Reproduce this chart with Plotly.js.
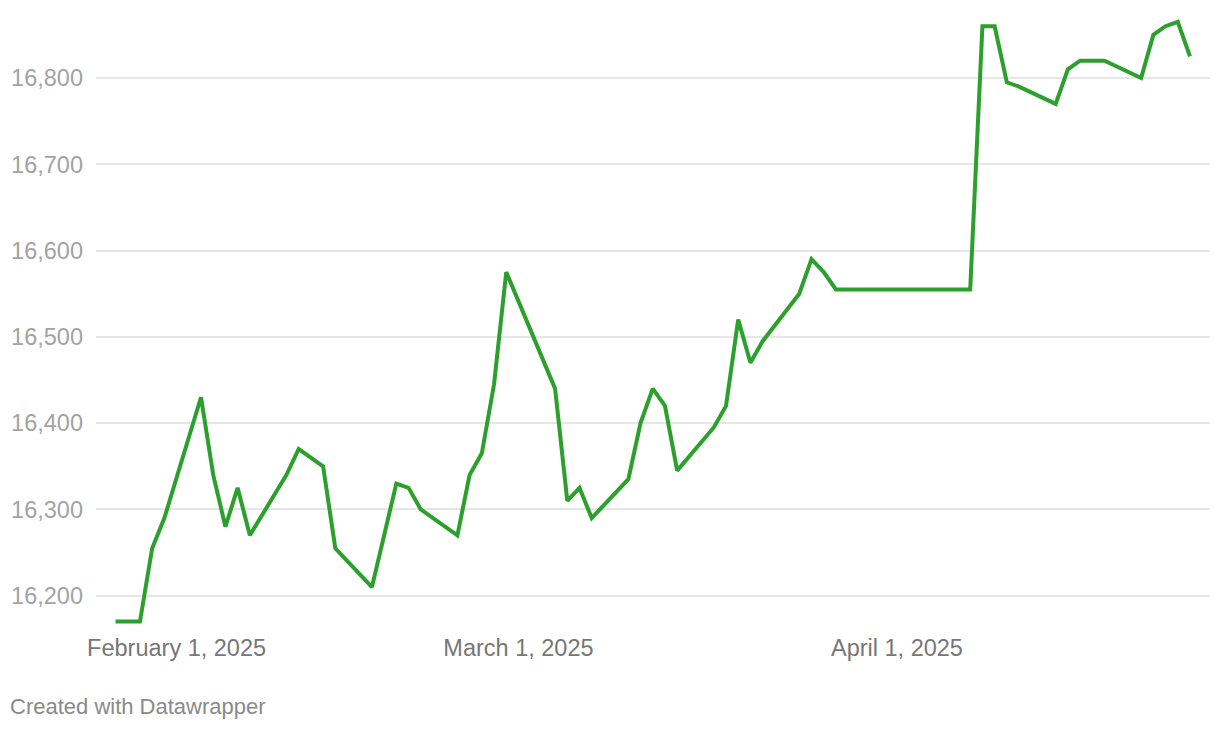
<!DOCTYPE html>
<html>
<head>
<meta charset="utf-8">
<script src="https://cdn.plot.ly/plotly-3.0.1.min.js"></script>
<style>
  html, body { margin: 0; padding: 0; background: #ffffff; }
  #chart { width: 1220px; height: 730px; }
</style>
</head>
<body>
<div id="chart"></div>
<script>
// Data
const dates = [
  '2025-01-27','2025-01-29','2025-01-30','2025-01-31',
  '2025-02-03','2025-02-04','2025-02-05','2025-02-06','2025-02-07',
  '2025-02-10','2025-02-11','2025-02-13','2025-02-14',
  '2025-02-17','2025-02-19','2025-02-20','2025-02-21',
  '2025-02-24','2025-02-25','2025-02-26','2025-02-27','2025-02-28',
  '2025-03-04','2025-03-05','2025-03-06','2025-03-07',
  '2025-03-10','2025-03-11','2025-03-12','2025-03-13','2025-03-14',
  '2025-03-17','2025-03-18','2025-03-19','2025-03-20','2025-03-21',
  '2025-03-24','2025-03-25','2025-03-26','2025-03-27',
  '2025-04-07','2025-04-08','2025-04-09','2025-04-10','2025-04-11',
  '2025-04-14','2025-04-15','2025-04-16','2025-04-17','2025-04-18',
  '2025-04-21','2025-04-22','2025-04-23','2025-04-24','2025-04-25'
];
const values = [
  16170, 16170, 16255, 16290,
  16430, 16340, 16280, 16325, 16270,
  16340, 16370, 16350, 16255,
  16210, 16330, 16325, 16300,
  16270, 16340, 16365, 16445, 16575,
  16440, 16310, 16325, 16290,
  16335, 16400, 16440, 16420, 16345,
  16395, 16420, 16520, 16470, 16495,
  16550, 16590, 16575, 16555,
  16555, 16860, 16860, 16795, 16790,
  16770, 16810, 16820, 16820, 16820,
  16800, 16850, 16860, 16865, 16825
];
const xTickVals = ['2025-02-01', '2025-03-01', '2025-04-01'];
const xTickLabels = ['February 1, 2025', 'March 1, 2025', 'April 1, 2025'];
const yTickVals = [16200, 16300, 16400, 16500, 16600, 16700, 16800];
const footerText = 'Created with Datawrapper';

const FONT = '"Liberation Sans", Arial, Helvetica, sans-serif';

const trace = {
  type: 'scatter',
  mode: 'lines',
  x: dates,
  y: values,
  line: { color: '#2ca02c', width: 4 },
  hoverinfo: 'x+y'
};

const layout = {
  width: 1220,
  height: 730,
  margin: { l: 96, r: 10, t: 10, b: 100, pad: 0 },
  paper_bgcolor: '#ffffff',
  plot_bgcolor: '#ffffff',
  showlegend: false,
  font: { family: FONT },
  xaxis: {
    type: 'date',
    range: ['2025-01-25 09:36', '2025-04-26 15:22'],
    tickmode: 'array',
    tickvals: xTickVals,
    ticktext: xTickLabels,
    showgrid: false,
    zeroline: false,
    showline: false,
    ticks: '',
    ticklabelstandoff: 1,
    tickfont: { family: FONT, size: 23.5, color: '#777777' }
  },
  yaxis: {
    range: [16160.25, 16878.8],
    tickmode: 'array',
    tickvals: yTickVals,
    tickformat: ',d',
    showgrid: true,
    gridcolor: '#e6e6e6',
    gridwidth: 2,
    zeroline: false,
    showline: false,
    ticks: '',
    ticklabelstandoff: 12,
    tickfont: { family: FONT, size: 23.5, color: '#a3a3a3' }
  },
  annotations: [{
    text: footerText,
    xref: 'paper', yref: 'paper',
    x: -88 / 1114, y: (630 - 706) / 620,
    xanchor: 'left', yanchor: 'middle',
    showarrow: false,
    font: { family: FONT, size: 22, color: '#8a8a8a' }
  }]
};

Plotly.newPlot('chart', [trace], layout, { displayModeBar: false, staticPlot: true });
</script>
</body>
</html>
